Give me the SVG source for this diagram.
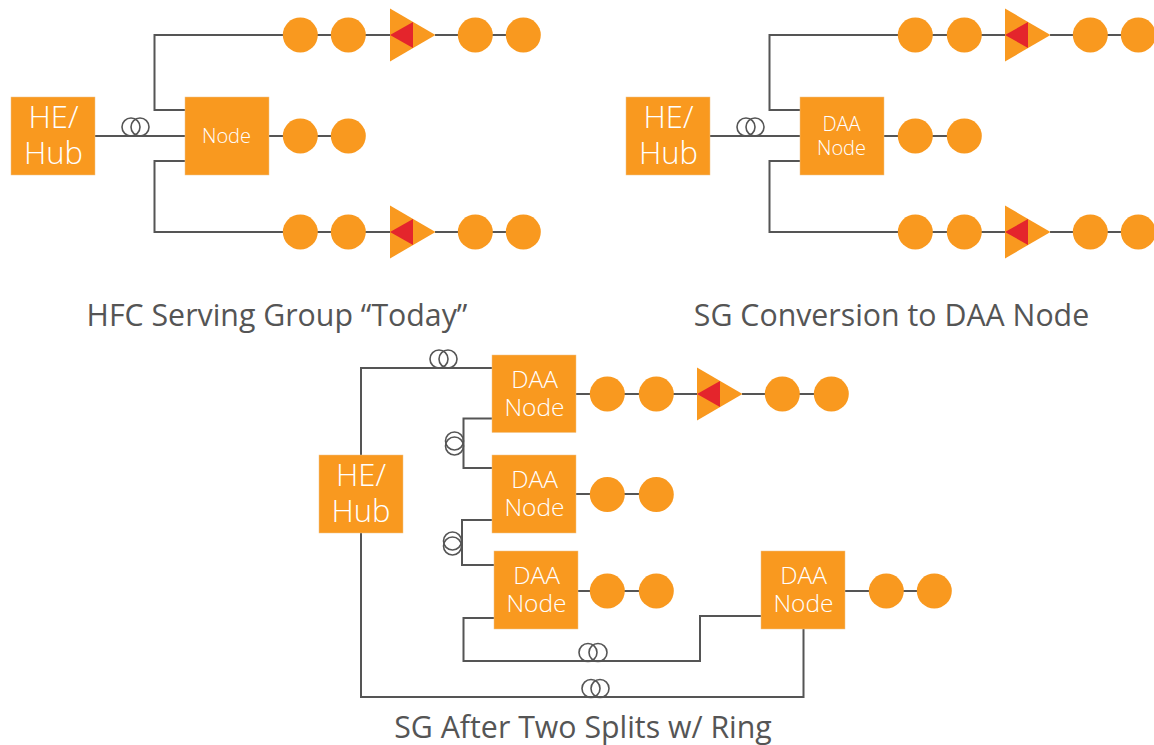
<svg xmlns="http://www.w3.org/2000/svg" xmlns:xlink="http://www.w3.org/1999/xlink" width="1154" height="745" viewBox="0 0 1154 745">
<style>
text{font-family:"Open Sans","Noto Sans","Liberation Sans",sans-serif;text-anchor:middle}
.b{fill:#f9991f;stroke:#f0c48a;stroke-width:.5}
.c{fill:#f9991f}
.r{fill:#e4252c}
.l{fill:none;stroke:#555;stroke-width:2}
.k{fill:none;stroke:#555;stroke-width:1.6}
.t{fill:#fff;font-weight:300}
.h{font-size:31px}
.s{font-size:20px}
.m{font-size:24.5px}
.cap{fill:#555;font-size:30.3px}
</style>
<rect width="1154" height="745" fill="#fff"/>
<g id="connectors">
<path class="l" d="M95 136H185M185 110H154.500V35H282M185 161H154.500V232H282M269 136H348M282 35H390M435 35H523M282 232H390M435 232H523"/>
<path class="l" d="M710 136H800M800 110H769.500V35H897M800 161H769.500V232H897M884 136H964M897 35H1005M1050 35H1138M897 232H1005M1050 232H1138"/>
<path class="l" d="M361 455V368H492M361 533V697H803.500V629M492 418.500H463.500V468H492M492 520H462V565H494M494 618H463.500V661H700V616H761"/>
<path class="l" d="M576 394H697M742 394H831M576 494H656M578 591H656M845 591H934"/>
<g class="k">
<circle cx="131" cy="127" r="9"/><circle cx="140" cy="127" r="9"/>
<circle cx="746" cy="127" r="9"/><circle cx="755" cy="127" r="9"/>
<circle cx="439" cy="359" r="9"/><circle cx="448" cy="359" r="9"/>
<circle cx="454.500" cy="441" r="9"/><circle cx="454.500" cy="446" r="9"/>
<circle cx="452.500" cy="541" r="9"/><circle cx="452.500" cy="546" r="9"/>
<circle cx="588" cy="652.500" r="9"/><circle cx="598" cy="652.500" r="9"/>
<circle cx="591" cy="688.500" r="9"/><circle cx="600" cy="688.500" r="9"/>
</g>
</g>
<defs>
<g id="amp"><polygon class="c" points="0,-26.500 0,26.500 45.500,0"/><polygon class="r" points="0,0 23,-13 23,13"/></g>
</defs>
<g id="sg1-he"><rect class="b" x="11" y="97" width="84" height="78"/><text class="t h" x="53.500" y="128">HE/</text><text class="t h" x="53.500" y="164">Hub</text></g>
<g id="sg1-node"><rect class="b" x="185" y="97" width="84" height="78"/><text class="t s" x="226.500" y="143">Node</text></g>
<g id="sg1-taps">
<circle class="c" cx="300.300" cy="35" r="17.500"/><circle class="c" cx="348.300" cy="35" r="17.500"/><use xlink:href="#amp" x="390" y="35"/><circle class="c" cx="475.300" cy="35" r="17.500"/><circle class="c" cx="523.300" cy="35" r="17.500"/>
<circle class="c" cx="300.300" cy="136" r="17.500"/><circle class="c" cx="348.300" cy="136" r="17.500"/>
<circle class="c" cx="300.300" cy="232" r="17.500"/><circle class="c" cx="348.300" cy="232" r="17.500"/><use xlink:href="#amp" x="390" y="232"/><circle class="c" cx="475.300" cy="232" r="17.500"/><circle class="c" cx="523.300" cy="232" r="17.500"/>
</g>
<g id="sg2-he"><rect class="b" x="626" y="97" width="84" height="78"/><text class="t h" x="668.500" y="128">HE/</text><text class="t h" x="668.500" y="164">Hub</text></g>
<g id="sg2-node"><rect class="b" x="800" y="97" width="84" height="78"/><text class="t s" x="841.500" y="131">DAA</text><text class="t s" x="841.500" y="155">Node</text></g>
<g id="sg2-taps">
<circle class="c" cx="915.300" cy="35" r="17.500"/><circle class="c" cx="964.300" cy="35" r="17.500"/><use xlink:href="#amp" x="1005" y="35"/><circle class="c" cx="1090.300" cy="35" r="17.500"/><circle class="c" cx="1138.300" cy="35" r="17.500"/>
<circle class="c" cx="915.300" cy="136" r="17.500"/><circle class="c" cx="964.300" cy="136" r="17.500"/>
<circle class="c" cx="915.300" cy="232" r="17.500"/><circle class="c" cx="964.300" cy="232" r="17.500"/><use xlink:href="#amp" x="1005" y="232"/><circle class="c" cx="1090.300" cy="232" r="17.500"/><circle class="c" cx="1138.300" cy="232" r="17.500"/>
</g>
<g id="sg3-he"><rect class="b" x="319" y="455" width="84" height="78"/><text class="t h" x="361" y="486">HE/</text><text class="t h" x="361" y="522">Hub</text></g>
<g id="sg3-node1"><rect class="b" x="492" y="355" width="84" height="77.500"/><text class="t m" x="534.500" y="388">DAA</text><text class="t m" x="534.500" y="416">Node</text></g>
<g id="sg3-node2"><rect class="b" x="492" y="455" width="84" height="78"/><text class="t m" x="534.500" y="488">DAA</text><text class="t m" x="534.500" y="516">Node</text></g>
<g id="sg3-node3"><rect class="b" x="494" y="551" width="84" height="78"/><text class="t m" x="536.500" y="584">DAA</text><text class="t m" x="536.500" y="612">Node</text></g>
<g id="sg3-node4"><rect class="b" x="761" y="551" width="84" height="78"/><text class="t m" x="803.500" y="584">DAA</text><text class="t m" x="803.500" y="612">Node</text></g>
<g id="sg3-taps">
<circle class="c" cx="607.300" cy="394" r="17.500"/><circle class="c" cx="656.300" cy="394" r="17.500"/><use xlink:href="#amp" x="697" y="394"/><circle class="c" cx="782.300" cy="394" r="17.500"/><circle class="c" cx="831.300" cy="394" r="17.500"/>
<circle class="c" cx="607.300" cy="494.500" r="17.500"/><circle class="c" cx="656.300" cy="494.500" r="17.500"/>
<circle class="c" cx="607.300" cy="591" r="17.500"/><circle class="c" cx="656.300" cy="591" r="17.500"/>
<circle class="c" cx="886.300" cy="591" r="17.500"/><circle class="c" cx="934.300" cy="591" r="17.500"/>
</g>
<g id="captions">
<text class="cap" x="277" y="326">HFC Serving Group “Today”</text>
<text class="cap" x="891.500" y="326">SG Conversion to DAA Node</text>
<text class="cap" x="583" y="738">SG After Two Splits w/ Ring</text>
</g>
</svg>
